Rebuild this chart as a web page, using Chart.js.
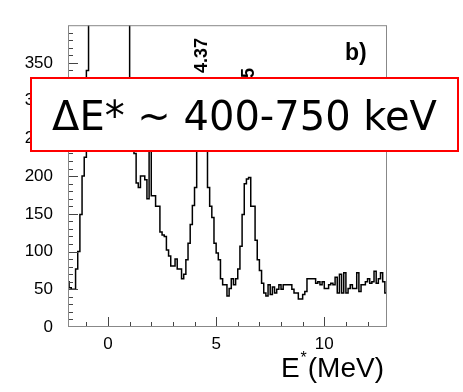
<!DOCTYPE html>
<html>
<head>
<meta charset="utf-8">
<script src="https://cdn.jsdelivr.net/npm/chart.js@4"></script>
<style>
html, body { margin: 0; padding: 0; background: #fff; }
</style>
</head>
<body>
<canvas id="spectre" width="463" height="392"></canvas>
<script>
// histogram, bins of 0.1 MeV starting at -1.9 MeV
const binStart = -1.9
const binWidth = 0.1
const counts = [
    60, 52, 50, 50, 77, 100, 149, 200, 225, 340,
    // ground state, off scale
    520, 900, 1600, 2600, 3900, 5200, 6100, 6400, 6000, 5100,
    3900, 2700, 1700, 1000, 700, 560, 480, 430, 410,
    260, 240, 230, 191, 185, 200, 200, 195, 170, 235,
    174, 174, 160, 160, 126, 122, 120, 102, 94, 81,
    81, 90, 77, 77, 64, 70, 89, 111, 136, 161,
    185, 240, 280, 305, 300, 250, 185, 160, 145, 111,
    98, 89, 64, 56, 56, 41, 51, 64, 56, 64,
    77, 107, 149, 190, 196, 198, 160, 160, 115, 89,
    75, 58, 45, 41, 56, 43, 53, 45, 50, 56,
    50, 56, 56, 56, 56, 50, 45, 45, 37, 37,
    43, 47, 64, 64, 64, 64, 58, 60, 56, 60,
    51, 51, 56, 58, 56, 66, 45, 70, 45, 72,
    45, 51, 56, 51, 51, 72, 47, 56, 56, 60,
    64, 58, 60, 74, 58, 64, 72, 60, 45
]
const xTicks = [0, 5, 10]
const yTicks = [0, 50, 100, 150, 200, 250, 300, 350]
const peakLabels = ['4.37', '6.5']
const peakEnergies = [4.37, 6.5]
const panelLabel = 'b)'
const boxText = 'ΔE* ~ 400-750 keV'

const points = counts.map((c, i) => ({ x: binStart + i * binWidth, y: c }))
points.push({ x: binStart + counts.length * binWidth, y: counts[counts.length - 1] })

const tickFont = { family: 'Liberation Sans', size: 17 }

const decorations = {
    id: 'decorations',
    afterDatasetsDraw(chart) {
        const { ctx, chartArea: a, scales: { x, y } } = chart
        ctx.save()

        // ticks drawn inwards, minor every 1 MeV / 10 counts
        ctx.strokeStyle = '#444'
        ctx.lineWidth = 1
        ctx.beginPath()
        for (let v = Math.ceil(x.min); v <= x.max; v++) {
            const px = Math.round(x.getPixelForValue(v)) + 0.5
            ctx.moveTo(px, a.bottom)
            ctx.lineTo(px, a.bottom - (v % 5 === 0 ? 10 : 5))
        }
        for (let v = 10; v < y.max; v += 10) {
            const py = Math.round(y.getPixelForValue(v)) + 0.5
            ctx.moveTo(a.left, py)
            ctx.lineTo(a.left + (v % 50 === 0 ? 10 : 5), py)
        }
        ctx.stroke()

        // frame
        ctx.strokeStyle = '#888'
        ctx.strokeRect(a.left + 0.5, a.top + 0.5, a.width - 1, a.height - 1)

        // axis title E*(MeV)
        ctx.fillStyle = '#000'
        ctx.textBaseline = 'alphabetic'
        ctx.font = '28px "Liberation Sans"'
        const base = a.bottom + 50
        const right = a.right - 3
        const w1 = ctx.measureText('(MeV)').width
        ctx.textAlign = 'right'
        ctx.fillText('(MeV)', right, base)
        ctx.font = '16px "Liberation Sans"'
        ctx.fillText('*', right - w1 - 1, base - 14)
        const w2 = ctx.measureText('*').width
        ctx.font = '28px "Liberation Sans"'
        ctx.fillText('E', right - w1 - w2 - 2, base)

        // peak labels, rotated
        ctx.font = 'bold 18px "Liberation Sans"'
        ctx.textAlign = 'right'
        ctx.textBaseline = 'middle'
        const tops = [38, 68]
        peakLabels.forEach((t, i) => {
            ctx.save()
            ctx.translate(x.getPixelForValue(peakEnergies[i]), tops[i])
            ctx.rotate(-Math.PI / 2)
            ctx.fillText(t, 0, 0)
            ctx.restore()
        })

        // panel label
        ctx.font = 'bold 23px "Liberation Sans"'
        ctx.textAlign = 'left'
        ctx.textBaseline = 'alphabetic'
        ctx.fillText(panelLabel, a.right - 42, a.top + 35)

        // resolution box
        const bx = 31, by = 78, bw = 427, bh = 73
        ctx.fillStyle = '#fff'
        ctx.fillRect(bx, by, bw, bh)
        ctx.strokeStyle = '#f00'
        ctx.lineWidth = 2
        ctx.strokeRect(bx, by, bw, bh)
        let size = 40
        ctx.font = size + 'px "DejaVu Sans"'
        const tw = ctx.measureText(boxText).width
        size = size * 385 / tw
        ctx.font = size + 'px "DejaVu Sans"'
        ctx.fillStyle = '#000'
        ctx.textAlign = 'center'
        ctx.fillText(boxText, bx + bw / 2, 130)

        ctx.restore()
    }
}

const config = {
    type: 'line',
    data: {
        datasets: [{
            data: points,
            borderColor: '#000',
            borderWidth: 1.5,
            pointRadius: 0,
            fill: false,
            stepped: 'before'
        }]
    },
    options: {
        responsive: false,
        devicePixelRatio: 1,
        animation: false,
        layout: { padding: { left: 0, right: 76, top: 12, bottom: 0 } },
        plugins: { legend: { display: false }, tooltip: { enabled: false } },
        scales: {
            x: {
                type: 'linear',
                min: -1.85,
                max: 12.9,
                grid: { display: false, drawTicks: false },
                border: { display: false },
                ticks: { font: tickFont, color: '#000', padding: 7, maxRotation: 0 },
                afterBuildTicks: s => { s.ticks = xTicks.map(v => ({ value: v })) },
                afterFit: s => { s.height = 65 }
            },
            y: {
                min: 0,
                max: 400,
                grid: { display: false, drawTicks: false },
                border: { display: false },
                ticks: { font: tickFont, color: '#000', padding: 15 },
                afterBuildTicks: s => { s.ticks = yTicks.map(v => ({ value: v })) },
                afterFit: s => { s.width = 68 }
            }
        }
    },
    plugins: [decorations]
}

const spectre = new Chart(document.querySelector('#spectre'), config)
</script>
</body>
</html>
